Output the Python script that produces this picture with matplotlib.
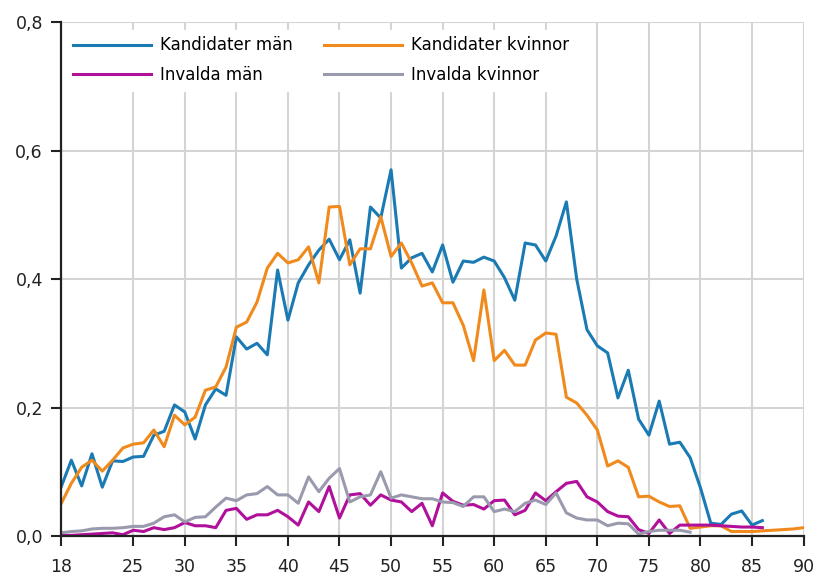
import matplotlib.pyplot as plt
import numpy as np

# ålder 18-90
ages = list(range(18, 91))

# Kandidater män, 18-86
kand_man = [0.076, 0.118, 0.078, 0.128, 0.076, 0.117, 0.116, 0.123, 0.124, 0.157,
            0.163, 0.204, 0.193, 0.151, 0.204, 0.229, 0.219, 0.310, 0.291, 0.300,
            0.282, 0.414, 0.336, 0.394, 0.422, 0.445, 0.462, 0.430, 0.461, 0.378,
            0.512, 0.495, 0.570, 0.417, 0.433, 0.440, 0.411, 0.453, 0.395, 0.428,
            0.426, 0.434, 0.428, 0.402, 0.367, 0.456, 0.453, 0.428, 0.467, 0.520,
            0.400, 0.321, 0.296, 0.285, 0.215, 0.258, 0.182, 0.157, 0.210, 0.143,
            0.146, 0.122, 0.075, 0.020, 0.018, 0.034, 0.039, 0.017, 0.024]

# Kandidater kvinnor, 18-90
kand_kvinnor = [0.050, 0.082, 0.107, 0.118, 0.101, 0.118, 0.137, 0.143, 0.145, 0.165,
                0.139, 0.188, 0.173, 0.185, 0.227, 0.232, 0.263, 0.325, 0.333, 0.364,
                0.417, 0.440, 0.425, 0.430, 0.450, 0.394, 0.512, 0.513, 0.422, 0.447,
                0.447, 0.497, 0.435, 0.456, 0.425, 0.389, 0.394, 0.363, 0.363, 0.328,
                0.273, 0.383, 0.273, 0.289, 0.266, 0.266, 0.305, 0.316, 0.314, 0.216,
                0.207, 0.188, 0.165, 0.109, 0.117, 0.107, 0.061, 0.062, 0.053, 0.046,
                0.047, 0.012, 0.014, 0.016, 0.016, 0.007, 0.007, 0.007, 0.008, 0.009,
                0.010, 0.011, 0.013]

# Invalda män, 18-86
inv_man = [0.001, 0.001, 0.002, 0.003, 0.004, 0.005, 0.002, 0.009, 0.007, 0.013,
           0.010, 0.013, 0.021, 0.016, 0.016, 0.013, 0.040, 0.043, 0.026, 0.033,
           0.033, 0.040, 0.030, 0.017, 0.053, 0.038, 0.077, 0.028, 0.064, 0.066,
           0.048, 0.064, 0.056, 0.053, 0.038, 0.051, 0.016, 0.067, 0.054, 0.048,
           0.049, 0.042, 0.055, 0.056, 0.033, 0.040, 0.067, 0.055, 0.069, 0.082,
           0.085, 0.061, 0.053, 0.038, 0.031, 0.030, 0.010, 0.004, 0.025, 0.004,
           0.017, 0.017, 0.017, 0.017, 0.016, 0.015, 0.014, 0.014, 0.013]

# Invalda kvinnor, 18-79
inv_kvinnor = [0.005, 0.007, 0.008, 0.011, 0.012, 0.012, 0.013, 0.015, 0.015, 0.020,
               0.030, 0.033, 0.022, 0.029, 0.030, 0.045, 0.059, 0.055, 0.064, 0.066,
               0.077, 0.064, 0.064, 0.051, 0.092, 0.069, 0.090, 0.105, 0.053, 0.061,
               0.064, 0.100, 0.059, 0.064, 0.061, 0.058, 0.058, 0.053, 0.052, 0.046,
               0.061, 0.061, 0.038, 0.042, 0.038, 0.051, 0.056, 0.049, 0.067, 0.036,
               0.028, 0.025, 0.025, 0.016, 0.020, 0.019, 0.003, 0.007, 0.009, 0.009,
               0.009, 0.006]

xticks = [18, 25, 30, 35, 40, 45, 50, 55, 60, 65, 70, 75, 80, 85, 90]
yticks = [0.0, 0.2, 0.4, 0.6, 0.8]

fig = plt.figure(figsize=(8.16, 5.76), dpi=100)
ax = fig.add_axes([0.0748, 0.0694, 0.910, 0.8924])

lw = 2.2
l1, = ax.plot(ages[:len(kand_man)], kand_man, color='#1a7ab4', lw=lw, label='Kandidater män')
l2, = ax.plot(ages[:len(kand_kvinnor)], kand_kvinnor, color='#f08a1c', lw=lw, label='Kandidater kvinnor')
l3, = ax.plot(ages[:len(inv_man)], inv_man, color='#b0109a', lw=lw, label='Invalda män')
l4, = ax.plot(ages[:len(inv_kvinnor)], inv_kvinnor, color='#9a9aae', lw=lw, label='Invalda kvinnor')

ax.set_xlim(18, 90)
ax.set_ylim(0, 0.8)
ax.set_xticks(xticks)
ax.set_xticklabels([str(t) for t in xticks])
ax.set_yticks(yticks)
ax.set_yticklabels([f'{t:.1f}'.replace('.', ',') for t in yticks])

ax.grid(True, color='#d4d4d4', lw=1.5)
ax.set_axisbelow(True)
for s in ['top', 'right']:
    ax.spines[s].set_visible(False)
for s in ['left', 'bottom']:
    ax.spines[s].set_color('#222222')
    ax.spines[s].set_linewidth(1.6)
ax.tick_params(axis='both', labelsize=12.5, length=7, width=1.5, colors='#222222')
ax.tick_params(axis='x', pad=9)
ax.tick_params(axis='y', pad=6)

# legend rader: kandidater överst, invalda under
leg = ax.legend([l1, l3, l2, l4],
                ['Kandidater män', 'Invalda män', 'Kandidater kvinnor', 'Invalda kvinnor'],
                ncol=2, loc='upper left', bbox_to_anchor=(0.007, 0.985), frameon=True,
                fontsize=12, handlelength=4.7, handletextpad=0.55, columnspacing=1.85,
                labelspacing=0.7, borderpad=0.4, borderaxespad=0.0, fancybox=False)
leg.get_frame().set_facecolor('white')
leg.get_frame().set_edgecolor('white')
leg.get_frame().set_alpha(1.0)

fig.savefig('out.png', dpi=100)
